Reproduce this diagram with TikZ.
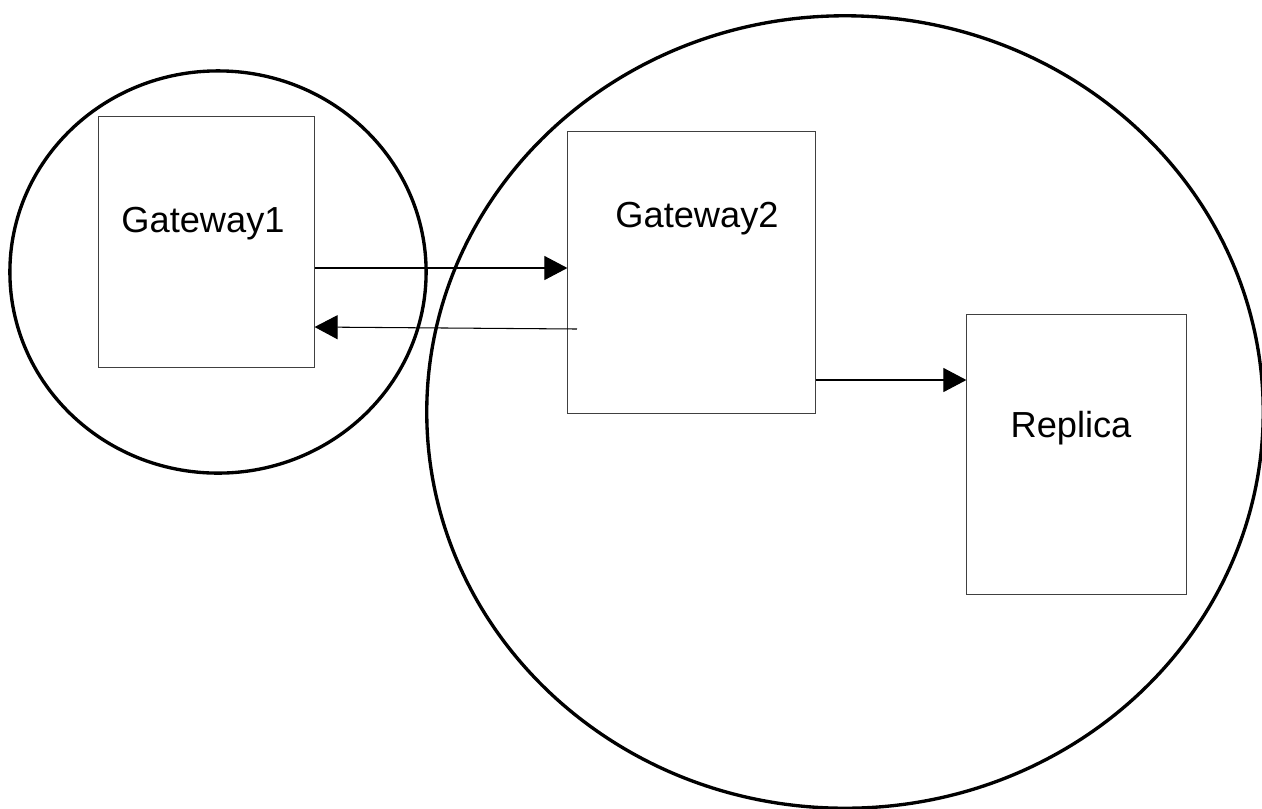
\documentclass[tikz,border=0pt]{standalone}
\usepackage{fontspec}
\setmainfont{Liberation Sans}
\usetikzlibrary{arrows.meta}

\begin{document}
\begin{tikzpicture}[>={Triangle[length=2.3mm,width=2.4mm]}, x=0.01cm, y=-0.01cm,
    box/.style={draw=black!75, line width=0.3pt, rectangle, inner sep=0pt},
    conn/.style={->, line width=0.3pt},
    zone/.style={line width=0.95pt},
    lbl/.style={anchor=base, font=\fontsize{10.3}{12}\selectfont}]
  \useasboundingbox (0,0) rectangle (1262,808);
  \clip (0,0) rectangle (1262,808);

  \draw[zone] (218,272) ellipse [x radius=2.08cm, y radius=2.01cm];
  \draw[zone] (845,412) ellipse [x radius=4.18cm, y radius=3.96cm];

\node[box, minimum width=2.15cm, minimum height=2.50cm] (gw1) at (206.5,242) {};
\node[box, minimum width=2.47cm, minimum height=2.81cm] (gw2) at (691.5,272.5) {};
\node[box, minimum width=2.19cm, minimum height=2.79cm] (rep) at (1076.5,454.5) {};

\node[lbl] (gw1lbl) at (203,232) {Gateway1};
\node[lbl] (gw2lbl) at (697,227) {Gateway2};
\node[lbl] (replbl) at (1071,437) {Replica};

\coordinate (fwd) at (0,268);
\coordinate (back) at (0,327);
\coordinate (backstart) at (577,329);
\coordinate (rep-in) at (0,380);

\draw[conn] (gw1.east |- fwd) -- (gw2.west |- fwd);
\draw[conn] (backstart) -- (gw1.east |- back);
\draw[conn] (gw2.east |- rep-in) -- (rep.west |- rep-in);
\end{tikzpicture}
\end{document}
